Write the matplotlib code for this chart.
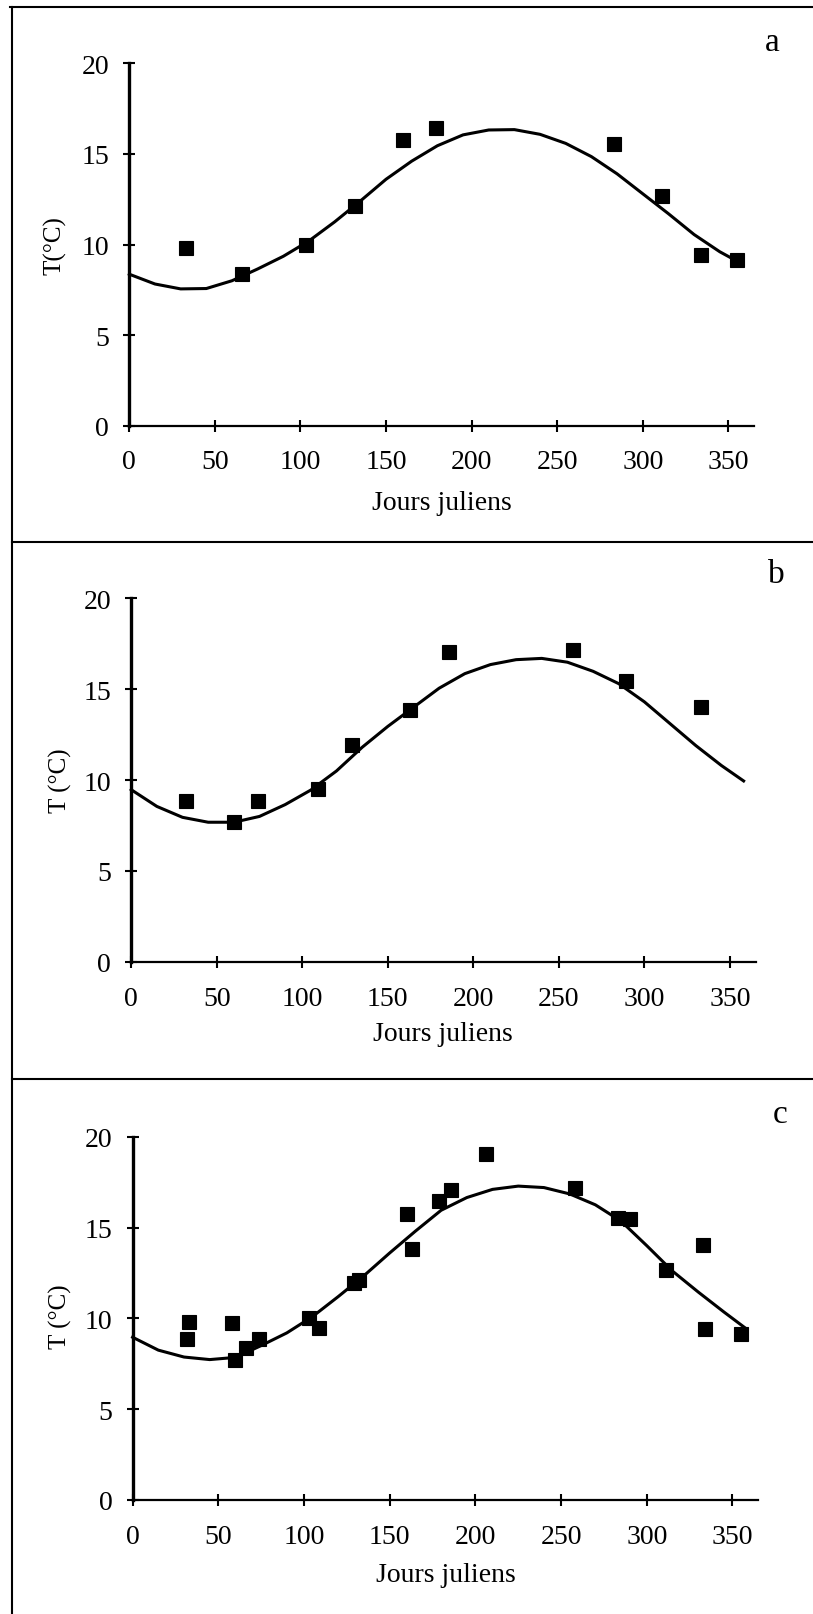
import matplotlib
matplotlib.use("Agg")
import matplotlib.pyplot as plt
from matplotlib.lines import Line2D

plt.rcParams['font.family'] = ['Liberation Serif', 'DejaVu Serif']

W, H = 813, 1615

# measured water temperatures (Julian day, degC)
days_a = [33, 66, 103, 132, 160, 179, 283, 311, 334, 355]
temp_a = [9.8, 8.35, 10.0, 12.1, 15.75, 16.45, 15.55, 12.65, 9.4, 9.15]

days_b = [32, 60, 74, 109, 129, 163, 186, 258, 289, 333]
temp_b = [8.87, 7.68, 8.85, 9.5, 11.95, 13.84, 17.05, 17.15, 15.45, 14.03]

days_c = [32, 33, 58, 60, 66, 74, 103, 109, 129, 132, 160, 163,
          179, 186, 206, 258, 283, 290, 311, 333, 334, 355]
temp_c = [8.87, 9.8, 9.72, 7.68, 8.35, 8.85, 10.0, 9.45, 11.95, 12.1, 15.75, 13.84,
          16.45, 17.05, 19.05, 17.15, 15.55, 15.45, 12.65, 14.03, 9.4, 9.15]

# fitted curves
fit_days = [0, 15, 30, 45, 60, 75, 90, 105, 120, 135, 150, 165, 180,
            195, 210, 225, 240, 255, 270, 285, 300, 315, 330, 345, 358]
fit_a = [8.36, 7.82, 7.55, 7.57, 8.0, 8.65, 9.35, 10.2, 11.25, 12.4, 13.6, 14.6, 15.45,
         16.05, 16.32, 16.34, 16.08, 15.58, 14.85, 13.9, 12.8, 11.7, 10.55, 9.6, 8.93]
fit_b = [9.47, 8.55, 7.95, 7.68, 7.68, 8.0, 8.65, 9.45, 10.5, 11.8, 12.95, 14.0, 15.05,
         15.85, 16.35, 16.62, 16.69, 16.48, 15.98, 15.3, 14.3, 13.1, 11.9, 10.8, 9.95]
fit_c = [8.96, 8.25, 7.87, 7.73, 7.85, 8.5, 9.2, 10.1, 11.2, 12.35, 13.6, 14.8, 15.95,
         16.65, 17.1, 17.28, 17.2, 16.85, 16.25, 15.35, 14.0, 12.6, 11.45, 10.35, 9.43]

xticks = [0, 50, 100, 150, 200, 250, 300, 350]
yticks = [0, 5, 10, 15, 20]


def px_rect(left, top, right, bottom):
    return [left / W, 1 - bottom / H, (right - left) / W, (bottom - top) / H]


def draw_panel(ax, days, temps, fit):
    ax.plot(fit_days, fit, color='black', lw=2.2, clip_on=False)
    ax.plot(days, temps, 's', color='black', ms=10.5, mew=0.8, clip_on=False)
    ax.set_xlim(0, 365)
    ax.set_ylim(0, 20)
    ax.set_xticks(xticks)
    ax.set_yticks(yticks)
    ax.spines['top'].set_visible(False)
    ax.spines['right'].set_visible(False)
    ax.spines['left'].set_linewidth(2.4)
    ax.spines['bottom'].set_linewidth(1.6)
    ax.tick_params(direction='inout', length=9.2, width=1.5, labelsize=20)
    ax.tick_params(axis='x', pad=12.5)
    ax.tick_params(axis='y', pad=10)


fig = plt.figure(figsize=(W / 100, H / 100), dpi=100)

panels = [
    # axes box (px), letter pos, ylabel, ylabel pos, xlabel pos
    ([129.3, 64.3, 754.0, 426.7], (772, 43), 'a', 'T(°C)', (55, 246), (442, 503), days_a, temp_a, fit_a),
    ([131.2, 599.2, 755.6, 962.9], (776, 575), 'b', 'T (°C)', (60, 781), (443, 1035), days_b, temp_b, fit_b),
    ([132.6, 1137.7, 758.2, 1501.0], (780, 1115), 'c', 'T (°C)', (60, 1317), (446, 1576), days_c, temp_c, fit_c),
]

for box, lpos, letter, ylab, ypos, xpos, d, t, f in panels:
    ax = fig.add_axes(px_rect(*box))
    draw_panel(ax, d, t, f)
    fig.text(lpos[0] / W, 1 - lpos[1] / H, letter, fontsize=24, ha='center', va='center')
    fig.text(ypos[0] / W, 1 - ypos[1] / H, ylab, fontsize=18, rotation=90, ha='center', va='center')
    fig.text(xpos[0] / W, 1 - xpos[1] / H, 'Jours juliens', fontsize=20, ha='center', va='center')

# frame around the three panels
frame_lines = [
    ([10 / W, 1.0], [1 - 8 / H, 1 - 8 / H]),
    ([12 / W, 12 / W], [1 - 8 / H, 0.0]),
    ([12 / W, 1.0], [1 - 542.5 / H, 1 - 542.5 / H]),
    ([12 / W, 1.0], [1 - 1079.5 / H, 1 - 1079.5 / H]),
]
for xs, ys in frame_lines:
    fig.add_artist(Line2D(xs, ys, color='black', lw=1.5, transform=fig.transFigure))

plt.savefig('out.png', dpi=100)
plt.close()
